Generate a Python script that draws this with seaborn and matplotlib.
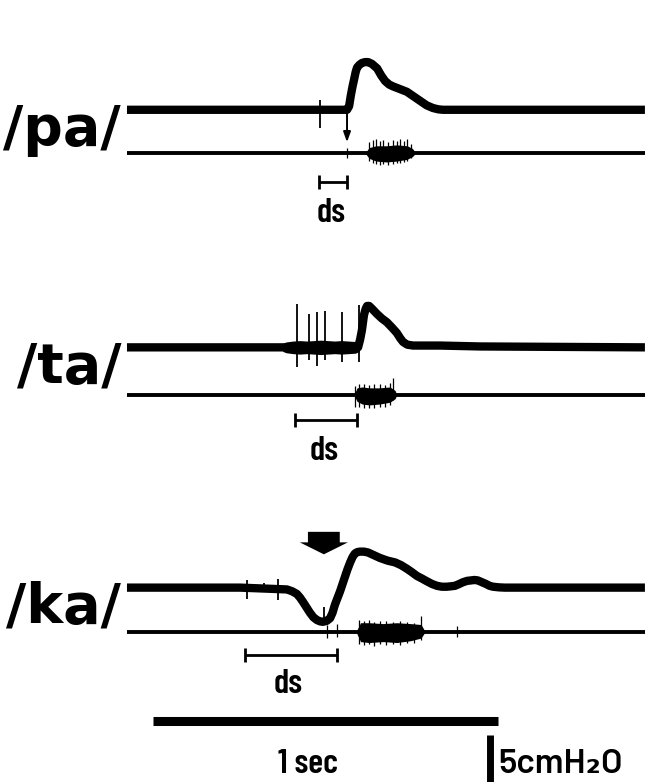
import numpy as np
import pandas as pd
import seaborn as sns
import matplotlib.pyplot as plt

# time in s from start of trace, pressure in cmH2O relative to resting level
pa_t = [0.0, 0.636, 0.642, 0.647, 0.652, 0.656, 0.661, 0.665, 0.672, 0.679, 0.688, 0.697, 0.708,
        0.723, 0.735, 0.746, 0.758, 0.769, 0.789, 0.809, 0.828, 0.847, 0.866, 0.884, 0.900, 0.913, 1.497]
pa_p = [0.0, 0.0, 0.4, 1.6, 2.6, 3.3, 4.2, 4.7, 5.0, 5.2, 5.3, 5.3, 5.1,
        4.6, 3.8, 3.2, 2.8, 2.6, 2.3, 2.0, 1.5, 1.0, 0.5, 0.2, 0.05, 0.0, 0.0]

ta_t = [0.0, 0.668, 0.674, 0.679, 0.685, 0.690, 0.694, 0.700, 0.708, 0.723, 0.737, 0.751, 0.766,
        0.780, 0.790, 0.798, 0.810, 0.827, 0.905, 1.020, 1.497]
ta_p = [0.0, 0.0, 0.9, 1.9, 3.6, 4.3, 4.6, 4.6, 4.3, 3.7, 3.2, 2.8, 2.2,
        1.6, 1.0, 0.6, 0.3, 0.2, 0.2, 0.1, 0.0]

ka_t = [0.0, 0.327, 0.462, 0.477, 0.491, 0.500, 0.509, 0.519, 0.529, 0.539, 0.549, 0.558, 0.566,
        0.577, 0.587, 0.594, 0.601, 0.609, 0.616, 0.623, 0.630, 0.637, 0.645, 0.652, 0.659, 0.666,
        0.673, 0.685, 0.697, 0.714, 0.731, 0.753, 0.775, 0.792, 0.809, 0.824, 0.838, 0.853, 0.867,
        0.882, 0.896, 0.910, 0.925, 0.937, 0.948, 0.960, 0.971, 0.983, 0.994, 1.004, 1.014, 1.026,
        1.038, 1.048, 1.058, 1.075, 1.092, 1.497]
ka_p = [0.0, 0.0, -0.2, -0.4, -0.7, -1.1, -1.6, -2.2, -2.8, -3.3, -3.6, -3.75, -3.8,
        -3.7, -3.4, -2.8, -1.9, -1.1, -0.4, 0.4, 1.2, 2.0, 2.8, 3.4, 3.8, 3.95,
        4.0, 4.0, 3.9, 3.6, 3.3, 3.0, 2.8, 2.5, 2.1, 1.7, 1.3, 1.0, 0.7,
        0.4, 0.2, 0.1, 0.1, 0.15, 0.2, 0.4, 0.6, 0.75, 0.8, 0.85, 0.8, 0.6,
        0.4, 0.2, 0.1, 0.03, 0.0, 0.0]

# artefact spikes on the pressure traces (time, top, bottom)
pa_spk_t, pa_spk_hi, pa_spk_lo = [0.558], [1.1], [-2.0]
ta_spk_t = [0.491, 0.527, 0.550, 0.571, 0.621, 0.671]
ta_spk_hi = [4.8, 3.7, 3.9, 4.0, 3.9, 4.7]
ta_spk_lo = [-2.2, -1.4, -2.1, -1.4, -1.6, -1.6]
ka_spk_t = [0.347, 0.396, 0.436, 0.569]
ka_spk_hi = [0.9, 0.5, 1.0, -2.1]
ka_spk_lo = [-1.3, -0.2, -1.4, -3.5]

# noisy stretch on /ta/ pressure before release
ta_noise_t = [0.45, 0.46, 0.48, 0.50, 0.52, 0.54, 0.56, 0.58, 0.60, 0.62, 0.64, 0.66, 0.672]
ta_noise_w = [0.45, 0.6, 0.7, 0.75, 0.7, 0.75, 0.8, 0.75, 0.7, 0.75, 0.7, 0.65, 0.45]

# voice bursts on the sound channel (envelope above / below)
pa_snd_t = [0.688, 0.70, 0.72, 0.75, 0.78, 0.81, 0.825, 0.835]
pa_snd_up = [0, 0.6, 0.8, 0.8, 0.9, 0.8, 0.5, 0]
pa_snd_dn = [0, 0.6, 0.9, 1.0, 0.9, 0.7, 0.4, 0]
ta_snd_t = [0.656, 0.665, 0.68, 0.70, 0.73, 0.76, 0.775, 0.78]
ta_snd_up = [0, 0.8, 0.9, 0.8, 0.8, 0.9, 0.5, 0]
ta_snd_dn = [0, 0.7, 1.0, 1.1, 1.0, 0.8, 0.4, 0]
ka_snd_t = [0.662, 0.675, 0.70, 0.74, 0.78, 0.82, 0.85, 0.862]
ka_snd_up = [0, 1.0, 1.0, 0.9, 1.0, 0.9, 0.8, 0]
ka_snd_dn = [0, 1.1, 1.2, 1.1, 1.2, 1.0, 0.7, 0]

# fine spikes on the sound channel
pa_sspk_t = [0.636, 0.70, 0.71, 0.72, 0.73, 0.74, 0.755, 0.77, 0.78, 0.79, 0.80, 0.81, 0.82]
pa_sspk_hi = [0.6, 1.2, 1.4, 1.5, 1.3, 1.4, 1.2, 1.4, 1.3, 1.6, 1.3, 1.5, 1.0]
pa_sspk_lo = [-0.6, -0.9, -1.1, -1.2, -1.3, -1.2, -1.3, -1.2, -1.1, -1.1, -1.0, -0.9, -0.6]
ta_sspk_t = [0.659, 0.67, 0.685, 0.70, 0.715, 0.73, 0.745, 0.759, 0.769]
ta_sspk_hi = [1.0, 1.2, 1.2, 1.1, 1.2, 1.2, 1.1, 1.3, 1.9]
ta_sspk_lo = [-1.3, -1.3, -1.4, -1.4, -1.4, -1.3, -1.3, -1.1, -0.6]
ka_sspk_t = [0.578, 0.607, 0.67, 0.685, 0.70, 0.715, 0.73, 0.75, 0.77, 0.79, 0.81, 0.83, 0.85, 0.954]
ka_sspk_hi = [0.7, 0.9, 1.3, 1.2, 1.3, 1.1, 1.2, 1.2, 1.1, 1.2, 1.1, 1.0, 1.7, 0.6]
ka_sspk_lo = [-0.7, -0.6, -1.4, -1.5, -1.4, -1.6, -1.4, -1.5, -1.4, -1.5, -1.3, -1.2, -0.9, -0.6]

# ds intervals
ds_start = {"pa": 0.555, "ta": 0.486, "ka": 0.341}
ds_end = {"pa": 0.636, "ta": 0.665, "ka": 0.607}

syllables = ["pa", "ta", "ka"]
press_base = {"pa": 74.7, "ta": 48.3, "ka": 21.6}
sound_base = {"pa": 69.9, "ta": 43.0, "ka": 16.7}
trace_end = 1.497

press = pd.concat([
    pd.DataFrame({"t": pa_t, "y": np.array(pa_p) + press_base["pa"], "syl": "pa"}),
    pd.DataFrame({"t": ta_t, "y": np.array(ta_p) + press_base["ta"], "syl": "ta"}),
    pd.DataFrame({"t": ka_t, "y": np.array(ka_p) + press_base["ka"], "syl": "ka"}),
])
sound = pd.DataFrame({"t": [0.0, trace_end] * 3,
                      "y": [sound_base[s] for s in syllables for _ in range(2)],
                      "syl": [s for s in syllables for _ in range(2)]})

sns.set_style("white")
narrow = ["Barlow Condensed", "DejaVu Sans"]

fig = plt.figure(figsize=(6.47, 7.82), dpi=100)
ax = fig.add_axes([0, 0, 1, 1])

sns.lineplot(data=press, x="t", y="y", units="syl", estimator=None, sort=False,
             color="black", lw=6.0, ax=ax, solid_capstyle="butt", solid_joinstyle="round")
sns.lineplot(data=sound, x="t", y="y", units="syl", estimator=None, sort=False,
             color="black", lw=2.8, ax=ax, solid_capstyle="butt")

ax.fill_between(ta_noise_t, np.array(ta_noise_w) + press_base["ta"],
                press_base["ta"] - np.array(ta_noise_w), color="black", lw=0)

spikes = {"pa": (pa_spk_t, pa_spk_hi, pa_spk_lo), "ta": (ta_spk_t, ta_spk_hi, ta_spk_lo),
          "ka": (ka_spk_t, ka_spk_hi, ka_spk_lo)}
sspikes = {"pa": (pa_sspk_t, pa_sspk_hi, pa_sspk_lo), "ta": (ta_sspk_t, ta_sspk_hi, ta_sspk_lo),
           "ka": (ka_sspk_t, ka_sspk_hi, ka_sspk_lo)}
bursts = {"pa": (pa_snd_t, pa_snd_up, pa_snd_dn), "ta": (ta_snd_t, ta_snd_up, ta_snd_dn),
          "ka": (ka_snd_t, ka_snd_up, ka_snd_dn)}
bracket_y = {"pa": -3.2, "ta": -2.8, "ka": -2.6}
ds_y = {"pa": -7.7, "ta": -7.2, "ka": -6.8}
ds_x = {"pa": 0.590, "ta": 0.569, "ka": 0.465}

for s in syllables:
    t, hi, lo = spikes[s]
    ax.vlines(t, np.array(lo) + press_base[s], np.array(hi) + press_base[s], color="black", lw=1.3)
    t, hi, lo = sspikes[s]
    ax.vlines(t, np.array(lo) + sound_base[s], np.array(hi) + sound_base[s], color="black", lw=0.9)
    t, up, dn = bursts[s]
    ax.fill_between(t, np.array(up) + sound_base[s], sound_base[s] - np.array(dn), color="black", lw=0)

    # ds bracket and label
    yb = sound_base[s] + bracket_y[s]
    ax.hlines(yb, ds_start[s], ds_end[s], color="black", lw=2.0)
    ax.vlines([ds_start[s], ds_end[s]], yb - 0.75, yb + 0.75, color="black", lw=2.0)
    ax.text(ds_x[s], sound_base[s] + ds_y[s], "ds", ha="center", va="baseline",
            fontsize=25, fontweight=600, family=narrow, color="black")

    ax.text(-0.017, press_base[s] - 3.9, f"/{s}/", ha="right", va="baseline",
            fontsize=40, fontweight="bold", family="DejaVu Sans", color="black")

# arrow marking onset of release on /pa/
ax.annotate("", xy=(0.636, sound_base["pa"] + 1.2), xytext=(0.636, press_base["pa"] - 0.4),
            arrowprops=dict(arrowstyle="-|>,head_width=0.18,head_length=0.5", lw=1.4,
                            color="black", shrinkA=0, shrinkB=0, mutation_scale=12))

# block arrow above /ka/
ax.arrow(0.569, press_base["ka"] + 6.2, 0, -2.5, width=0.092, head_width=0.139,
         head_length=1.33, length_includes_head=True, color="black", lw=0)

# scale bars
ax.hlines(6.8, 0.075, 1.073, color="black", lw=6.5)
ax.text(0.524, 1.0, "1 sec", ha="center", va="baseline", fontsize=25, fontweight=600,
        family=narrow, color="black")
ax.vlines(1.049, 0.0, 5.2, color="black", lw=5.0)
ax.text(1.072, 1.0, "5cmH₂O", ha="left", va="baseline", fontsize=25, fontweight=600,
        family=["Barlow", "DejaVu Sans"], color="black")

ax.set_xlim(-0.367, 1.503)
ax.set_ylim(0, 86.9)
ax.set_axis_off()

fig.savefig("out.png", dpi=100, facecolor="white")
